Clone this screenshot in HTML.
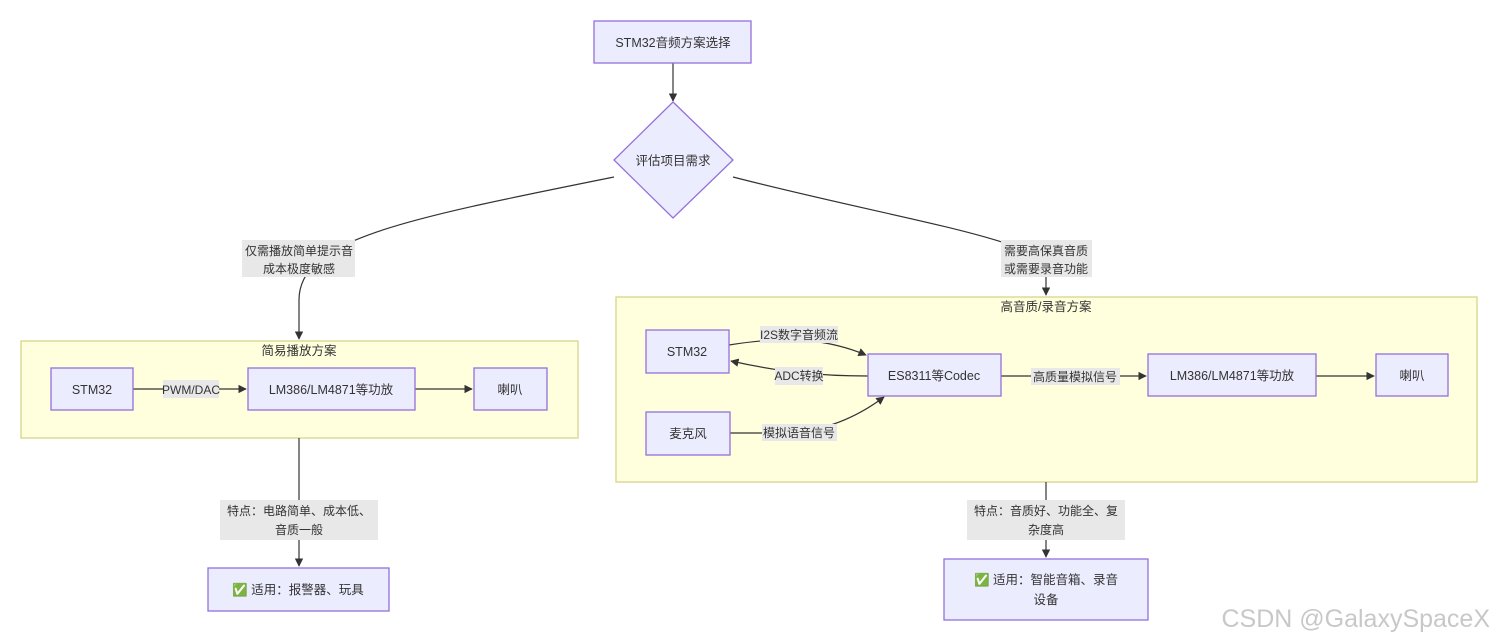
<!DOCTYPE html>
<html><head><meta charset="utf-8"><style>
html,body{margin:0;padding:0;background:#fff;}
svg{display:block;}
text{font-family:"Liberation Sans","Noto Sans CJK SC",sans-serif;font-size:12.5px;fill:#333;}
text.s{font-size:12px;}
.n{fill:#ececff;stroke:#9370db;stroke-width:1.3;}
.g{fill:#ffffde;stroke:#d6d68a;stroke-width:1.3;}
.e{stroke:#333;stroke-width:1.2;fill:none;}
.l{fill:#e8e8e8;}
</style></head><body>
<svg width="1498" height="642" viewBox="0 0 1498 642" xmlns="http://www.w3.org/2000/svg">
<defs><marker id="a" viewBox="0 0 10 10" refX="9" refY="5" markerWidth="7" markerHeight="7" orient="auto"><path d="M0,0L10,5L0,10z" fill="#333"/></marker></defs>

<rect class="g" x="21" y="341" width="557" height="97"/>
<rect class="g" x="616" y="297" width="861" height="185"/>
<text x="299" y="355" text-anchor="middle">简易播放方案</text>
<text x="1046" y="311" text-anchor="middle">高音质/录音方案</text>

<path class="e" d="M673,63 L673,101" marker-end="url(#a)"/>
<path class="e" d="M614,177 C400,220 299,240 299,300 L299,339" marker-end="url(#a)"/>
<path class="e" d="M733,177 C900,220 1046,240 1046,270 L1046,295" marker-end="url(#a)"/>
<path class="e" d="M133,389 L246,389" marker-end="url(#a)"/>
<path class="e" d="M415,389 L472,389" marker-end="url(#a)"/>
<path class="e" d="M299,438 L299,566" marker-end="url(#a)"/>
<path class="e" d="M729,345 C790,335 830,340 866,355" marker-end="url(#a)"/>
<path class="e" d="M868,376 C820,376 780,372 731,361" marker-end="url(#a)"/>
<path class="e" d="M730,433 L790,433 C830,430 860,415 884,397" marker-end="url(#a)"/>
<path class="e" d="M1001,376 L1146,376" marker-end="url(#a)"/>
<path class="e" d="M1316,376 L1374,376" marker-end="url(#a)"/>
<path class="e" d="M1046,482 L1046,557" marker-end="url(#a)"/>

<rect class="n" x="594" y="21" width="157" height="42"/>
<text x="673" y="47" text-anchor="middle">STM32音频方案选择</text>
<polygon class="n" points="673,102 733,160 673,218 614,160"/>
<text x="673" y="165" text-anchor="middle">评估项目需求</text>

<rect class="n" x="51" y="368" width="82" height="42"/><text x="92" y="394" text-anchor="middle">STM32</text>
<rect class="n" x="248" y="368" width="167" height="42"/><text x="331" y="394" text-anchor="middle">LM386/LM4871等功放</text>
<rect class="n" x="474" y="368" width="73" height="42"/><text x="510" y="394" text-anchor="middle">喇叭</text>
<rect class="n" x="208" y="568" width="181" height="43"/><text x="298" y="594" text-anchor="middle">✅ 适用：报警器、玩具</text>

<rect class="n" x="646" y="330" width="83" height="43"/><text x="687" y="356" text-anchor="middle">STM32</text>
<rect class="n" x="868" y="354" width="133" height="42"/><text x="934" y="380" text-anchor="middle">ES8311等Codec</text>
<rect class="n" x="646" y="412" width="84" height="43"/><text x="688" y="438" text-anchor="middle">麦克风</text>
<rect class="n" x="1148" y="354" width="168" height="42"/><text x="1232" y="380" text-anchor="middle">LM386/LM4871等功放</text>
<rect class="n" x="1376" y="354" width="72" height="42"/><text x="1412" y="380" text-anchor="middle">喇叭</text>
<rect class="n" x="944" y="559" width="204" height="61"/>
<text x="1046" y="584" text-anchor="middle">✅ 适用：智能音箱、录音</text>
<text x="1046" y="604" text-anchor="middle">设备</text>

<rect class="l" x="242" y="240" width="113" height="37"/>
<text class="s" x="299" y="255" text-anchor="middle">仅需播放简单提示音</text>
<text class="s" x="299" y="273" text-anchor="middle">成本极度敏感</text>
<rect class="l" x="1001" y="240" width="91" height="37"/>
<text class="s" x="1046" y="255" text-anchor="middle">需要高保真音质</text>
<text class="s" x="1046" y="273" text-anchor="middle">或需要录音功能</text>
<rect class="l" x="163" y="380" width="56" height="18"/><text class="s" x="191" y="394" text-anchor="middle">PWM/DAC</text>
<rect class="l" x="220" y="500" width="158" height="40"/>
<text class="s" x="299" y="515" text-anchor="middle">特点：电路简单、成本低、</text>
<text class="s" x="299" y="534" text-anchor="middle">音质一般</text>
<rect class="l" x="760" y="326" width="78" height="17"/><text class="s" x="799" y="339" text-anchor="middle">I2S数字音频流</text>
<rect class="l" x="775" y="367" width="48" height="18"/><text class="s" x="799" y="380" text-anchor="middle">ADC转换</text>
<rect class="l" x="762" y="424" width="75" height="17"/><text class="s" x="799" y="437" text-anchor="middle">模拟语音信号</text>
<rect class="l" x="1031" y="368" width="89" height="17"/><text class="s" x="1075" y="381" text-anchor="middle">高质量模拟信号</text>
<rect class="l" x="967" y="500" width="158" height="40"/>
<text class="s" x="1046" y="515" text-anchor="middle">特点：音质好、功能全、复</text>
<text class="s" x="1046" y="534" text-anchor="middle">杂度高</text>

<text x="1490" y="627" text-anchor="end" style="font-size:25px;fill:#c8c8c8;">CSDN @GalaxySpaceX</text>
</svg>
</body></html>
